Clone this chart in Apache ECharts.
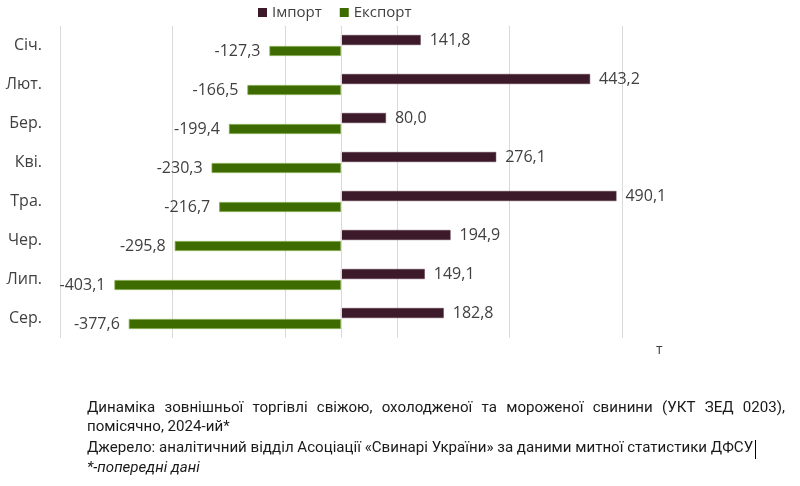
<!DOCTYPE html>
<html>
<head>
<meta charset="utf-8">
<script src="https://cdn.jsdelivr.net/npm/echarts@6/dist/echarts.min.js"></script>
<style>html,body{margin:0;padding:0;background:#fff}#chart{width:800px;height:486px}</style>
</head>
<body>
<div id="chart"></div>
<script>
const categories = ['Січ.', 'Лют.', 'Бер.', 'Кві.', 'Тра.', 'Чер.', 'Лип.', 'Сер.'];
const importValues = [141.8, 443.2, 80.0, 276.1, 490.1, 194.9, 149.1, 182.8];
const exportValues = [-127.3, -166.5, -199.4, -230.3, -216.7, -295.8, -403.1, -377.6];
const seriesNames = ['Імпорт', 'Експорт'];
const unitLabel = 'т';
const captionLines = [
  'Динаміка зовнішньої торгівлі свіжою, охолодженої та мороженої свинини (УКТ ЗЕД 0203),',
  'помісячно, 2024-ий*',
  'Джерело: аналітичний відділ Асоціації «Свинарі України» за даними митної статистики ДФСУ',
  '*-попередні дані'
];

const fmt = v => v.toFixed(1).replace('.', ',');
const chartFont = '"Open Sans", sans-serif';
const capFamily = '"Liberation Sans Narrow", "Roboto", sans-serif';

const cv = document.createElement('canvas').getContext('2d');
function measure(t, size, style) { cv.font = (style || '') + ' ' + size + 'px ' + capFamily; return cv.measureText(t).width; }

const capLeft = 87, capRight = 785;
let capSize = 16 * 668 / measure(captionLines[2], 16);
capSize = Math.round(capSize * 10) / 10;

const graphics = [];
(function () {
  const words = captionLines[0].split(' ');
  const widths = words.map(w => measure(w, capSize));
  const total = widths.reduce((a, b) => a + b, 0);
  const gap = (capRight - capLeft - total) / (words.length - 1);
  let x = capLeft;
  words.forEach((w, i) => {
    graphics.push({ type: 'text', left: x, top: 410 - capSize * 0.6, style: { text: w, font: capSize + 'px ' + capFamily, fill: '#1a1a1a' } });
    x += widths[i] + gap;
  });
})();
const capY = [429, 450, 470];
[1, 2, 3].forEach((li, k) => {
  graphics.push({ type: 'text', left: capLeft, top: capY[k] - capSize * 0.6,
    style: { text: captionLines[li], font: (li === 3 ? 'italic ' : '') + capSize + 'px ' + capFamily, fill: '#1a1a1a' } });
});
const line3End = capLeft + measure(captionLines[2], capSize);
graphics.push({ type: 'line', shape: { x1: Math.round(line3End) + 2.5, y1: 440, x2: Math.round(line3End) + 2.5, y2: 459 }, style: { stroke: '#000', lineWidth: 1 } });
graphics.push({ type: 'text', left: 656, top: 343, style: { text: unitLabel, font: '14px ' + chartFont, fill: '#404040' } });

const chart = echarts.init(document.getElementById('chart'));
chart.setOption({
  animation: false,
  textStyle: { fontFamily: chartFont },
  color: ['#3d1a2a', '#3e6b00'],
  legend: {
    data: seriesNames, left: 253, top: 0, icon: 'rect', itemWidth: 9, itemHeight: 9, itemGap: 18,
    itemStyle: { borderWidth: 0 },
    textStyle: { fontSize: 15, color: '#404040', fontFamily: chartFont }
  },
  grid: { left: 60, right: 178, top: 26, bottom: 148, containLabel: false },
  xAxis: {
    type: 'value', min: -500, max: 500, interval: 200,
    axisLabel: { show: false }, axisLine: { show: false }, axisTick: { show: false },
    splitLine: { show: true, lineStyle: { color: '#d9d9d9', width: 1 } }
  },
  yAxis: {
    type: 'category', data: categories, inverse: true,
    axisLine: { show: false }, axisTick: { show: false }, splitLine: { show: false },
    axisLabel: { margin: 18, fontSize: 16, color: '#404040', fontFamily: chartFont }
  },
  series: [
    {
      name: seriesNames[0], type: 'bar', data: importValues, barWidth: 10, barGap: '10%',
      itemStyle: { color: '#3d1a2a', borderColor: '#5a3a48', borderWidth: 0.5 },
      label: { show: true, position: 'right', distance: 9, fontSize: 16, color: '#404040', formatter: p => fmt(p.value) },
      markLine: { silent: true, symbol: 'none', label: { show: false }, lineStyle: { color: '#d9d9d9', type: 'solid', width: 1 }, data: [{ xAxis: 0 }] }
    },
    {
      name: seriesNames[1], type: 'bar', data: exportValues, barWidth: 10,
      itemStyle: { color: '#3e6b00', borderColor: '#7ea445', borderWidth: 0.8 },
      label: { show: true, position: 'left', distance: 9, fontSize: 16, color: '#404040', formatter: p => fmt(p.value) }
    }
  ],
  graphic: graphics
});
</script>
</body>
</html>
